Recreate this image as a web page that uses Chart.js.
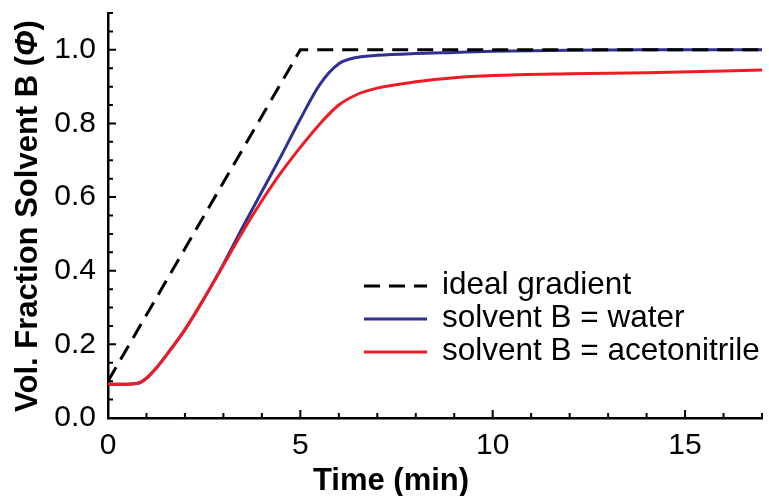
<!DOCTYPE html>
<html>
<head>
<meta charset="utf-8">
<script src="https://cdn.jsdelivr.net/npm/chart.js@4.4.1/dist/chart.umd.min.js"></script>
<style>
  html, body { margin: 0; padding: 0; background: #fff; }
  #wrap { width: 769px; height: 496px; }
</style>
</head>
<body>
<div id="wrap"><canvas id="gradientChart" width="769" height="496"></canvas></div>
<script>
// measured traces, time in min
let timeMin = [0, 0.5, 0.8, 1.0, 1.25, 1.5, 2.0, 2.5, 3.0, 3.5, 4.0, 4.5, 5.0, 5.5, 6.0, 6.5, 7.0, 8.0, 9.0, 10.0, 12.0, 14.0, 17.0];
let waterPhi = [0.092, 0.092, 0.095, 0.108, 0.135, 0.168, 0.24, 0.325, 0.418, 0.518, 0.615, 0.712, 0.812, 0.905, 0.962, 0.98, 0.985, 0.99, 0.993, 0.996, 0.999, 1.0, 1.0];
let acetonitrilePhi = [0.092, 0.092, 0.095, 0.108, 0.135, 0.168, 0.24, 0.325, 0.415, 0.506, 0.59, 0.667, 0.735, 0.798, 0.85, 0.88, 0.896, 0.913, 0.924, 0.93, 0.935, 0.938, 0.945];
// programmed gradient
let idealTime = [0, 5, 17];
let idealPhi = [0.1, 1.0, 1.0];

let seriesLabels = ["ideal gradient", "solvent B = water", "solvent B = acetonitrile"];
let xTicks = [0, 5, 10, 15];
let yTicks = [0, 0.2, 0.4, 0.6, 0.8, 1.0];

let toPoints = (xs, ys) => xs.map((x, i) => ({ x: x, y: ys[i] }));

let FONT = '"Liberation Sans", Arial, sans-serif';

// inward ticks, axis titles and the legend
let decor = {
      id: 'decor',
      afterDraw: (chart) => {
            let ctx = chart.ctx;
            let area = chart.chartArea;
            let xs = chart.scales.x;
            let ys = chart.scales.y;
            ctx.save();
            ctx.strokeStyle = '#000';
            ctx.lineWidth = 2;
            ctx.beginPath();
            for (let i = 1; i <= 17; i++) {
                  let px = xs.getPixelForValue(i);
                  let len = i % 5 === 0 ? 8 : 5;
                  ctx.moveTo(px, area.bottom);
                  ctx.lineTo(px, area.bottom - len);
            }
            for (let i = 1; i <= 22; i++) {
                  let py = ys.getPixelForValue(i * 0.05);
                  let len = i % 4 === 0 ? 8 : 5;
                  ctx.moveTo(area.left, py);
                  ctx.lineTo(area.left + len, py);
            }
            ctx.stroke();

            // axis titles
            ctx.fillStyle = '#000';
            ctx.font = 'bold 31px ' + FONT;
            ctx.textAlign = 'center';
            ctx.textBaseline = 'middle';
            ctx.fillText('Time (min)', area.left + 283, 481);

            ctx.save();
            ctx.translate(28, 216);
            ctx.rotate(-Math.PI / 2);
            let head = 'Vol. Fraction Solvent B (';
            let tail = ')';
            ctx.font = 'bold 31px ' + FONT;
            let wHead = ctx.measureText(head).width;
            let wTail = ctx.measureText(tail).width;
            ctx.font = 'italic bold 31px ' + FONT;
            let wPhi = ctx.measureText('\u03A6').width;
            let x0 = -(wHead + wPhi + wTail) / 2;
            ctx.textAlign = 'left';
            ctx.font = 'bold 31px ' + FONT;
            ctx.fillText(head, x0, 0);
            ctx.font = 'italic bold 31px ' + FONT;
            ctx.fillText('\u03A6', x0 + wHead, 0);
            ctx.font = 'bold 31px ' + FONT;
            ctx.fillText(tail, x0 + wHead + wPhi, 0);
            ctx.restore();

            // legend
            let lx = area.left + 256;
            let ly = 286;
            chart.data.datasets.forEach((ds, i) => {
                  let y = ly + i * 33;
                  ctx.beginPath();
                  ctx.strokeStyle = ds.borderColor;
                  ctx.lineWidth = ds.borderWidth;
                  ctx.setLineDash(ds.borderDash || []);
                  ctx.moveTo(lx, y);
                  ctx.lineTo(lx + 63, y);
                  ctx.stroke();
                  ctx.setLineDash([]);
                  ctx.font = '31.5px ' + FONT;
                  ctx.fillStyle = '#000';
                  ctx.textAlign = 'left';
                  ctx.textBaseline = 'middle';
                  ctx.fillText(ds.label, lx + 78, y - 1);
            });
            ctx.restore();
      }
};

let ctx = document.getElementById('gradientChart').getContext('2d');
new Chart(ctx, {
      type: 'line',
      data: {
            datasets: [{
                  label: seriesLabels[0],
                  data: toPoints(idealTime, idealPhi),
                  borderColor: '#000000',
                  borderWidth: 3,
                  borderDash: [16, 9],
                  pointRadius: 0,
                  tension: 0,
                  order: 0
            }, {
                  label: seriesLabels[1],
                  data: toPoints(timeMin, waterPhi),
                  borderColor: '#2e3192',
                  borderWidth: 3,
                  pointRadius: 0,
                  cubicInterpolationMode: 'monotone',
                  order: 2
            }, {
                  label: seriesLabels[2],
                  data: toPoints(timeMin, acetonitrilePhi),
                  borderColor: '#ed1c24',
                  borderWidth: 3,
                  pointRadius: 0,
                  cubicInterpolationMode: 'monotone',
                  order: 1
            }]
      },
      options: {
            responsive: false,
            animation: false,
            devicePixelRatio: 1,
            layout: { padding: { top: 13, right: 7, left: 0, bottom: 0 } },
            plugins: {
                  legend: { display: false },
                  tooltip: { enabled: false }
            },
            scales: {
                  x: {
                        type: 'linear',
                        min: 0,
                        max: 17,
                        grid: { display: false, drawTicks: false },
                        border: { display: true, color: '#000', width: 2.5 },
                        ticks: {
                              color: '#000',
                              padding: 10,
                              font: { family: FONT, size: 30 },
                              maxRotation: 0
                        },
                        afterBuildTicks: (scale) => {
                              scale.ticks = xTicks.map((v) => ({ value: v }));
                        },
                        afterFit: (scale) => {
                              scale.height = 78;
                              scale.paddingLeft = 0;
                              scale.paddingRight = 0;
                        }
                  },
                  y: {
                        type: 'linear',
                        min: 0,
                        max: 1.1,
                        grid: { display: false, drawTicks: false },
                        border: { display: true, color: '#000', width: 2.5 },
                        ticks: {
                              color: '#000',
                              padding: 12,
                              font: { family: FONT, size: 30 },
                              callback: (v) => v.toFixed(1)
                        },
                        afterBuildTicks: (scale) => {
                              scale.ticks = yTicks.map((v) => ({ value: v }));
                        },
                        afterFit: (scale) => {
                              scale.width = 108;
                              scale.paddingTop = 0;
                              scale.paddingBottom = 0;
                        }
                  }
            }
      },
      plugins: [decor]
});
</script>
</body>
</html>
